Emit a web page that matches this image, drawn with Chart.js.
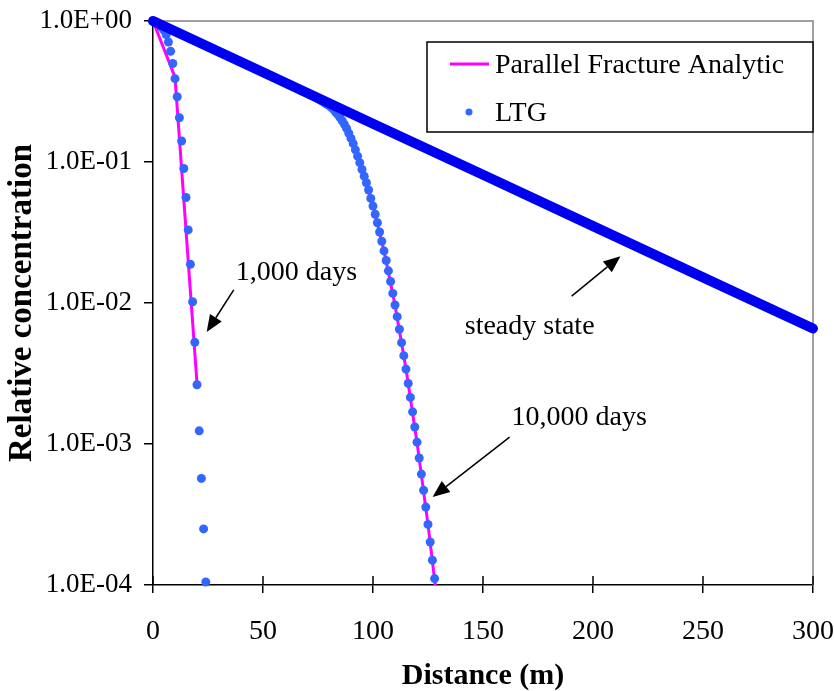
<!DOCTYPE html>
<html>
<head>
<meta charset="utf-8">
<script src="https://cdn.jsdelivr.net/npm/chart.js@4.4.0/dist/chart.umd.min.js"></script>
<style>
  html, body { margin:0; padding:0; background:#fff; }
  #wrap { width:834px; height:691px; }
</style>
</head>
<body>
<div id="wrap"><canvas id="chart" width="834" height="691"></canvas></div>
<script>
// ---- data ----
// steady state (LTG, drawn as a dense band of dots)
const steadyX = [0, 50, 100, 150, 200, 250, 300];
const steadyY = [1, 0.433, 0.187, 0.0811, 0.0351, 0.0152, 0.0066];

// 1,000 days
const ltg1kX = [0,1,2,3,4,5,6,7,8,9,10,11,12,13,14,15,16,17,18,19,20,21,22,23,24];
const ltg1kY = [1, 0.99, 0.97, 0.94, 0.90, 0.86, 0.80, 0.71, 0.61, 0.50, 0.39, 0.29, 0.206, 0.141,
                0.090, 0.056, 0.033, 0.0188, 0.0102, 0.00526, 0.00263, 0.00124, 0.00057, 0.00025, 0.000105];
const ana1kX = [0, 10, 20];
const ana1kY = [1, 0.40, 0.0027];

// 10,000 days
const ltg10kX = [60,61,62,63,64,65,66,67,68,69,70,71,72,73,74,75,76,77,78,79,80,81,82,83,84,85,86,87,88,89,
                 90,91,92,93,94,95,96,97,98,99,100,101,102,103,104,105,106,107,108,109,110,111,112,113,114,
                 115,116,117,118,119,120,121,122,123,124,125,126,127,128];
const ltg10kY = [0.366, 0.360, 0.353, 0.347, 0.341, 0.336, 0.330, 0.324, 0.319, 0.313,
                 0.308, 0.302, 0.297, 0.292, 0.286, 0.281, 0.275, 0.269, 0.263, 0.257,
                 0.251, 0.244, 0.236, 0.226, 0.217, 0.207, 0.196, 0.185, 0.173, 0.160,
                 0.147, 0.135, 0.122, 0.110, 0.0989, 0.0885, 0.0794, 0.0713, 0.0633, 0.0552,
                 0.0487, 0.0426, 0.0371, 0.0319, 0.0274, 0.0234, 0.0200, 0.0169, 0.0142, 0.0117,
                 0.00968, 0.00800, 0.00651, 0.00523, 0.00423, 0.00340, 0.00269, 0.00214, 0.00169, 0.00132,
                 0.00103, 0.000796, 0.000612, 0.000470, 0.000357, 0.000269, 0.000202, 0.000150, 0.000111];
const ana10kX = [0, 10, 20, 30, 40, 50, 60, 70, 75, 80, 85, 90, 95, 100, 105, 110, 115, 120, 125, 130];
const ana10kY = [1, 0.846, 0.715, 0.605, 0.512, 0.433, 0.366, 0.308, 0.281, 0.251, 0.207, 0.147,
                 0.0885, 0.0487, 0.0234, 0.00968, 0.0034, 0.00103, 0.000269, 0.00006];

// axes
const yTickValues = [1e-4, 1e-3, 1e-2, 1e-1, 1];
const yTickLabels = ["1.0E-04", "1.0E-03", "1.0E-02", "1.0E-01", "1.0E+00"];

// labels with arrows (data coordinates: text left/middle, arrow tail -> tip)
const notes = [
  { text: "1,000 days",   at: [37.6, 0.0163],  from: [36.7, 0.0124],  to: [24.4, 0.00622] },
  { text: "steady state", at: [141.7, 0.00676], from: [190.3, 0.0112], to: [212.5, 0.0215] },
  { text: "10,000 days",  at: [163.0, 0.00155], from: [162.1, 0.00112], to: [127.1, 0.000421] }
];

const FONT = "'Liberation Serif', 'Times New Roman', serif";
const pts = (xs, ys) => xs.map((x, i) => ({ x, y: ys[i] }));

// top/right gray frame + inner x ticks
const framePlugin = {
  id: 'frame',
  beforeDatasetsDraw(chart){
    const {ctx, chartArea:a} = chart;
    ctx.save();
    ctx.strokeStyle = '#a0a0a0';
    ctx.lineWidth = 2;
    ctx.beginPath();
    ctx.moveTo(a.left, a.top); ctx.lineTo(a.right, a.top); ctx.lineTo(a.right, a.bottom);
    ctx.stroke();
    // inner tick marks on x axis
    const xs = chart.scales.x;
    ctx.strokeStyle = '#000';
    ctx.lineWidth = 1.5;
    xs.ticks.forEach(t => {
      const px = xs.getPixelForValue(t.value);
      ctx.beginPath(); ctx.moveTo(px, a.bottom); ctx.lineTo(px, a.bottom - 9); ctx.stroke();
    });
    ctx.restore();
  }
};

// legend box drawn inside the plot
const legendPlugin = {
  id: 'boxLegend',
  afterDatasetsDraw(chart){
    const {ctx, chartArea:a} = chart;
    const L = a.left + 274, T = a.top + 21, W = 386, H = 90;
    ctx.save();
    ctx.fillStyle = '#fff';
    ctx.fillRect(L, T, W, H);
    ctx.strokeStyle = '#000';
    ctx.lineWidth = 1.5;
    ctx.strokeRect(L, T, W, H);
    const items = chart.data.datasets.filter(d => d.legend);
    items.forEach((d, i) => {
      const cy = T + 22 + i * 48;
      if (d.showLine) {
        ctx.strokeStyle = d.borderColor; ctx.lineWidth = 3;
        ctx.beginPath(); ctx.moveTo(L + 23, cy); ctx.lineTo(L + 62, cy); ctx.stroke();
      } else {
        ctx.fillStyle = d.backgroundColor;
        ctx.beginPath(); ctx.arc(L + 42, cy, 3.5, 0, Math.PI * 2); ctx.fill();
      }
      ctx.fillStyle = '#000';
      ctx.font = '28px ' + FONT;
      ctx.textBaseline = 'middle';
      ctx.fillText(d.legend, L + 68, cy + 2);
    });
    ctx.restore();
  }
};

// text labels with arrows
const notesPlugin = {
  id: 'notes',
  afterDatasetsDraw(chart){
    const {ctx, scales:{x, y}} = chart;
    const P = p => [x.getPixelForValue(p[0]), y.getPixelForValue(p[1])];
    ctx.save();
    notes.forEach(n => {
      const [tx, ty] = P(n.at);
      ctx.fillStyle = '#000';
      ctx.font = '28px ' + FONT;
      ctx.textBaseline = 'middle';
      ctx.fillText(n.text, tx, ty);
      const [x0, y0] = P(n.from), [x1, y1] = P(n.to);
      const ang = Math.atan2(y1 - y0, x1 - x0);
      const hl = 17, hw = 7;
      const bx = x1 - hl * Math.cos(ang), by = y1 - hl * Math.sin(ang);
      ctx.strokeStyle = '#000'; ctx.lineWidth = 1.5;
      ctx.beginPath(); ctx.moveTo(x0, y0); ctx.lineTo(bx, by); ctx.stroke();
      ctx.beginPath();
      ctx.moveTo(x1, y1);
      ctx.lineTo(bx + hw * Math.sin(ang), by - hw * Math.cos(ang));
      ctx.lineTo(bx - hw * Math.sin(ang), by + hw * Math.cos(ang));
      ctx.closePath(); ctx.fill();
    });
    ctx.restore();
  }
};

new Chart(document.getElementById('chart'), {
  type: 'scatter',
  data: {
    datasets: [
      { data: pts(steadyX, steadyY), showLine: true, borderColor: '#0000f0', borderWidth: 10,
        borderCapStyle: 'round', pointRadius: 0, clip: false, order: 0 },
      { data: pts(ana1kX, ana1kY), legend: 'Parallel Fracture Analytic', showLine: true,
        borderColor: '#ff00ff', borderWidth: 3, pointRadius: 0, order: 2 },
      { data: pts(ltg1kX, ltg1kY), legend: 'LTG', showLine: false, backgroundColor: '#3366ff',
        borderWidth: 0, pointRadius: 4.5, clip: false, order: 1 },
      { data: pts(ltg10kX, ltg10kY), showLine: false, backgroundColor: '#3366ff',
        borderWidth: 0, pointRadius: 4.5, clip: false, order: 1 },
      { data: pts(ana10kX, ana10kY), showLine: true, borderColor: '#ff00ff', borderWidth: 3,
        pointRadius: 0, order: 2 }
    ]
  },
  options: {
    responsive: false,
    animation: false,
    devicePixelRatio: 1,
    layout: { padding: { top: 21, right: 21, left: 0, bottom: 0 } },
    plugins: { legend: { display: false }, tooltip: { enabled: false } },
    scales: {
      x: {
        type: 'linear', min: 0, max: 300,
        afterFit: s => { s.height = 106; s.paddingLeft = 0; s.paddingRight = 0; },
        ticks: { stepSize: 50, maxRotation: 0, padding: 22, color: '#000', font: { family: FONT, size: 28 } },
        grid: { drawOnChartArea: false, tickLength: 8, color: '#000', lineWidth: 1.5 },
        border: { color: '#000', width: 1.5 },
        title: { display: true, text: 'Distance (m)', color: '#000',
                 font: { family: FONT, size: 30, weight: 'bold', lineHeight: 1 }, padding: { top: 0, bottom: 0 } }
      },
      y: {
        type: 'logarithmic', min: 1e-4, max: 1,
        afterBuildTicks: s => { s.ticks = yTickValues.map(v => ({ value: v })); },
        afterFit: s => { s.width = 153; s.paddingTop = 0; s.paddingBottom = 0; },
        ticks: { callback: (v, i) => yTickLabels[i], padding: 12, color: '#000',
                 font: { family: FONT, size: 27 } },
        grid: { drawOnChartArea: false, tickLength: 9, color: '#000', lineWidth: 1.5 },
        border: { color: '#000', width: 1.5 },
        title: { display: true, text: 'Relative concentration', color: '#000',
                 font: { family: FONT, size: 33, weight: 'bold', lineHeight: 1 }, padding: { top: 6, bottom: 0 } }
      }
    }
  },
  plugins: [framePlugin, legendPlugin, notesPlugin]
});
</script>
</body>
</html>
